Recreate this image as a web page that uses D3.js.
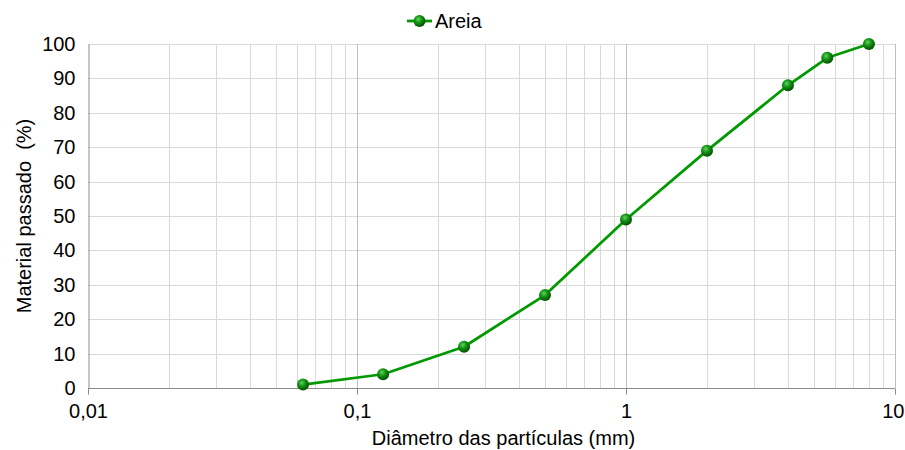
<!DOCTYPE html>
<html>
<head>
<meta charset="utf-8">
<script src="https://cdn.jsdelivr.net/npm/d3@7"></script>
<style>
  html, body { margin: 0; padding: 0; background: #fff; }
  svg { display: block; font-family: "Liberation Sans", Arial, sans-serif; }
</style>
</head>
<body>
<svg id="chart" width="905" height="450"></svg>
<script>
// Curva granulométrica da areia
const diameters = [0.063, 0.125, 0.25, 0.5, 1, 2, 4, 5.6, 8];
const passing   = [1, 4, 12, 27, 49, 69, 88, 96, 100];
const seriesName = "Areia";
const xTickValues = [0.01, 0.1, 1, 10];
const xTickLabels = ["0,01", "0,1", "1", "10"];
const yTickValues = [0, 10, 20, 30, 40, 50, 60, 70, 80, 90, 100];

const svg = d3.select("#chart");
const margin = { left: 88, right: 10, top: 44, bottom: 62 };
const W = 905, H = 450;
const FS = 20;

const x = d3.scaleLog().domain([0.01, 10]).range([margin.left, W - margin.right]);
const y = d3.scaleLinear().domain([0, 100]).range([H - margin.bottom, margin.top]);

const defs = svg.append("defs");
const grad = defs.append("radialGradient").attr("id", "ball")
  .attr("cx", "40%").attr("cy", "35%").attr("r", "65%");
grad.append("stop").attr("offset", "0%").attr("stop-color", "#5fd35f");
grad.append("stop").attr("offset", "45%").attr("stop-color", "#159415");
grad.append("stop").attr("offset", "100%").attr("stop-color", "#004f00");

// minor vertical grid
const minor = [];
for (let d = 0.01; d < 10; d *= 10) {
  for (let k = 2; k <= 9; k++) minor.push(d * k);
}
svg.append("g").selectAll("line").data(minor).join("line")
  .attr("x1", d => Math.round(x(d)) + 0.5).attr("x2", d => Math.round(x(d)) + 0.5)
  .attr("y1", y(100)).attr("y2", y(0))
  .attr("stroke", "#d9d9d9").attr("stroke-width", 1);

// horizontal grid
svg.append("g").selectAll("line").data(yTickValues.filter(v => v > 0)).join("line")
  .attr("x1", x(0.01)).attr("x2", x(10))
  .attr("y1", d => Math.round(y(d)) + 0.5).attr("y2", d => Math.round(y(d)) + 0.5)
  .attr("stroke", "#d9d9d9").attr("stroke-width", 1);

// major vertical grid
svg.append("g").selectAll("line").data(xTickValues.slice(1)).join("line")
  .attr("x1", d => Math.round(x(d)) + 0.5).attr("x2", d => Math.round(x(d)) + 0.5)
  .attr("y1", y(100)).attr("y2", y(0))
  .attr("stroke", "#bfbfbf").attr("stroke-width", 1);

// x axis
const xAxis = d3.axisBottom(x).tickValues(xTickValues)
  .tickFormat((d, i) => xTickLabels[i]).tickSize(6).tickPadding(9);
const gx = svg.append("g").attr("transform", `translate(0,${Math.round(y(0)) + 0.5})`).call(xAxis);
gx.select(".domain").attr("stroke", "#8c8c8c").attr("d", `M${x(0.01)},0H${x(10)}`);
gx.selectAll(".tick line").attr("stroke", "#8c8c8c");
gx.selectAll(".tick text").attr("fill", "#000").attr("font-size", FS)
  .attr("font-family", "Liberation Sans, Arial, sans-serif");
// keep the last label inside the frame
gx.selectAll(".tick text").filter(d => d === 10)
  .attr("text-anchor", "end").attr("x", W - 1 - x(10));

// y axis
const yAxis = d3.axisLeft(y).tickValues(yTickValues).tickSize(0).tickPadding(13);
const gy = svg.append("g").attr("transform", `translate(${Math.round(x(0.01)) + 0.5},0)`).call(yAxis);
gy.select(".domain").attr("stroke", "#8c8c8c");
gy.selectAll(".tick text").attr("fill", "#000").attr("font-size", FS)
  .attr("font-family", "Liberation Sans, Arial, sans-serif");

// line
const line = d3.line().x((d, i) => x(diameters[i])).y(d => y(d));
svg.append("path").datum(passing).attr("d", line)
  .attr("fill", "none").attr("stroke", "#009900").attr("stroke-width", 2.75)
  .attr("stroke-linejoin", "round");

svg.append("g").selectAll("circle").data(passing).join("circle")
  .attr("cx", (d, i) => x(diameters[i])).attr("cy", d => y(d)).attr("r", 6)
  .attr("fill", "url(#ball)");

// axis titles
svg.append("text").attr("x", (x(0.01) + x(10)) / 2 + 12).attr("y", 445)
  .attr("text-anchor", "middle").attr("font-size", FS).text("Diâmetro das partículas (mm)");
svg.append("text").attr("transform", `translate(31,${(y(0) + y(100)) / 2}) rotate(-90)`)
  .attr("text-anchor", "middle").attr("font-size", FS)
  .style("white-space", "pre").text("Material passado  (%)");

// legend
const lg = svg.append("g").attr("transform", "translate(407,21)");
lg.append("line").attr("x1", 0).attr("x2", 25).attr("y1", 0).attr("y2", 0)
  .attr("stroke", "#009900").attr("stroke-width", 2.75);
lg.append("circle").attr("cx", 12.5).attr("cy", 0).attr("r", 6).attr("fill", "url(#ball)");
lg.append("text").attr("x", 28).attr("y", 7).attr("font-size", FS).text(seriesName);
</script>
</body>
</html>
